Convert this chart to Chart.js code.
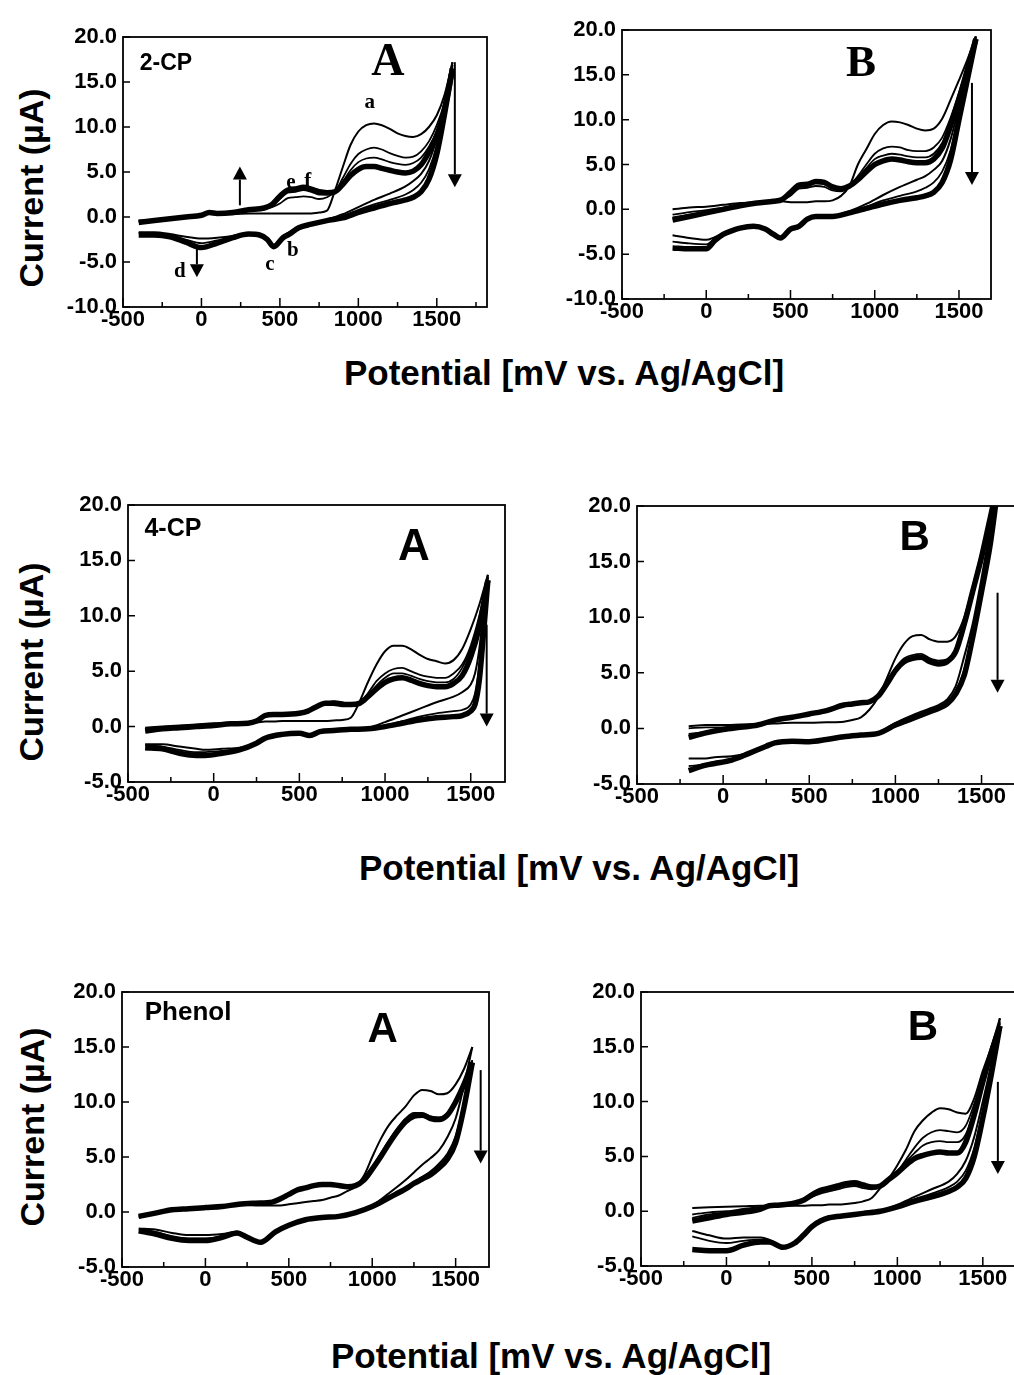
<!DOCTYPE html>
<html>
<head>
<meta charset="utf-8">
<script src="https://cdn.jsdelivr.net/npm/chart.js@4.4.1/dist/chart.umd.min.js"></script>
<style>
  html, body { margin: 0; padding: 0; background: #fff; }
  #page { position: relative; width: 1014px; height: 1375px; overflow: hidden; background: #fff; }
  #page canvas { position: absolute; }
  .ttl { position: absolute; white-space: nowrap; color: #000;
         font: bold 35px "Liberation Sans", Arial, sans-serif;
         transform: translate(-50%, -50%); }
  .ytl { font-size: 34px; transform: translate(-50%, -50%) rotate(-90deg); }
</style>
</head>
<body>
<div id="page">
  <div class="ttl ytl" style="left:31px;top:188px">Current (µA)</div>
  <div class="ttl ytl" style="left:31px;top:662px">Current (µA)</div>
  <div class="ttl ytl" style="left:32px;top:1127px">Current (µA)</div>
  <div class="ttl" style="left:564px;top:373px">Potential [mV vs. Ag/AgCl]</div>
  <div class="ttl" style="left:579px;top:868px">Potential [mV vs. Ag/AgCl]</div>
  <div class="ttl" style="left:551px;top:1356px">Potential [mV vs. Ag/AgCl]</div>
</div>
<script>
// ---- 2-CP, panel A (mV / µA) ----
const cp2A_fwdV = [-400,-300,-200,-100,0,50,100,200,300,400,450,500,550,600,650,700,750,800,850,900,950,1000,1050,1100,1150,1200,1250,1300,1350,1400,1450,1500,1550,1600];
const cp2A_fwd1 = [-0.4,-0.3,-0.1,0.0,0.2,0.4,0.3,0.3,0.4,0.4,0.4,0.4,0.4,0.4,0.4,0.4,0.5,0.7,2.9,5.5,8.0,9.5,10.2,10.4,10.2,9.8,9.3,9.0,8.9,9.2,10.0,11.3,13.6,17.2];
const cp2A_fwd2 = [-0.5,-0.4,-0.2,0.0,0.2,0.5,0.4,0.5,0.7,0.9,1.1,1.5,2.1,2.2,2.3,2.2,2.0,2.2,2.8,4.3,5.9,7.0,7.5,7.7,7.5,7.1,6.8,6.6,6.7,7.3,8.4,10.2,12.8,16.9];
const cp2A_fwd3 = [-0.5,-0.4,-0.2,0.0,0.2,0.5,0.4,0.5,0.8,1.0,1.3,2.0,2.7,2.8,3.0,2.8,2.5,2.5,2.8,3.9,5.2,6.1,6.5,6.6,6.4,6.1,5.9,5.8,6.0,6.6,7.8,9.6,12.3,16.7];
const cp2A_fwdN = [-0.6,-0.4,-0.2,0.0,0.2,0.5,0.4,0.5,0.8,1.0,1.4,2.3,3.0,3.1,3.3,3.1,2.8,2.7,2.8,3.6,4.6,5.3,5.6,5.6,5.4,5.2,5.0,4.9,5.1,5.8,7.2,9.0,12.0,16.5];
const cp2A_revV = [1600,1550,1500,1450,1400,1350,1300,1200,1100,1000,900,800,700,620,560,520,460,420,370,300,200,100,0,-100,-200,-300,-400];
const cp2A_rev1 = [17.2,12.8,8.8,6.2,4.8,4.0,3.4,2.6,1.9,1.1,0.3,-0.3,-0.8,-1.1,-1.7,-2.1,-3.1,-2.6,-2.0,-1.8,-2.1,-2.3,-2.4,-2.2,-1.9,-1.7,-1.7];
const cp2A_rev2 = [16.9,12.2,8.0,5.3,3.8,3.0,2.5,1.9,1.4,0.8,0.1,-0.4,-0.8,-1.2,-1.8,-2.2,-3.2,-2.5,-2.0,-1.8,-2.2,-2.6,-2.9,-2.5,-2.0,-1.9,-1.8];
const cp2A_revN = [16.5,11.5,7.0,4.2,2.8,2.2,1.9,1.5,1.0,0.5,-0.1,-0.4,-0.8,-1.2,-1.9,-2.3,-3.3,-2.5,-2.0,-1.9,-2.3,-2.9,-3.4,-2.8,-2.2,-2.0,-2.0];

// ---- 2-CP, panel B ----
const cp2B_fwdV = [-200,-100,0,100,200,300,400,450,500,550,600,650,700,750,800,850,900,950,1000,1050,1100,1150,1200,1250,1300,1350,1400,1450,1500,1550,1600];
const cp2B_fwd1 = [0.0,0.2,0.3,0.5,0.7,0.8,0.9,0.9,0.8,0.8,0.8,0.9,0.9,1.0,1.5,2.6,5.0,6.7,8.4,9.4,9.8,9.7,9.4,9.0,8.8,9.0,10.1,12.2,14.4,16.7,19.3];
const cp2B_fwd2 = [-0.6,-0.3,-0.1,0.2,0.5,0.7,0.9,1.0,1.5,2.3,2.4,2.6,2.5,2.1,2.0,2.6,3.7,5.0,6.2,6.8,7.0,6.9,6.6,6.5,6.5,6.9,8.0,10.2,13.0,16.0,19.2];
const cp2B_fwd3 = [-0.9,-0.6,-0.3,0.1,0.4,0.7,0.9,1.0,1.7,2.5,2.6,2.9,2.8,2.3,2.2,2.6,3.5,4.6,5.6,6.0,6.2,6.1,5.9,5.8,5.8,6.2,7.4,9.8,12.7,15.8,19.1];
const cp2B_fwdN = [-1.2,-0.8,-0.4,0.0,0.4,0.7,0.9,1.1,1.9,2.7,2.8,3.1,3.0,2.5,2.3,2.6,3.3,4.2,5.0,5.4,5.6,5.5,5.3,5.2,5.2,5.6,6.8,9.3,12.3,15.6,19.0];
const cp2B_revV = [1600,1550,1500,1450,1400,1350,1300,1250,1150,1050,950,850,750,650,600,550,500,440,400,350,280,200,150,100,50,0,-100,-200];
const cp2B_rev1 = [19.3,15.5,11.5,7.8,5.4,4.4,3.7,3.3,2.5,1.6,0.6,-0.2,-0.7,-0.8,-1.1,-1.8,-2.2,-3.1,-2.7,-2.2,-1.9,-2.1,-2.3,-2.7,-3.1,-3.4,-3.2,-2.9];
const cp2B_rev2 = [19.2,15.0,10.8,6.6,4.2,3.0,2.4,2.0,1.5,1.0,0.3,-0.3,-0.8,-0.8,-1.1,-1.9,-2.2,-3.2,-2.8,-2.2,-1.9,-2.1,-2.4,-2.8,-3.3,-3.9,-3.8,-3.6];
const cp2B_revN = [19.0,14.5,10.0,5.5,3.0,1.9,1.5,1.3,1.0,0.6,0.1,-0.4,-0.8,-0.8,-1.1,-1.9,-2.2,-3.2,-2.8,-2.2,-1.9,-2.1,-2.4,-2.8,-3.5,-4.4,-4.4,-4.3];

// ---- 4-CP, panel A ----
const cp4A_fwdV = [-400,-300,-200,-100,0,100,200,250,300,350,400,500,550,600,650,700,750,800,850,900,950,1000,1050,1100,1150,1200,1250,1300,1350,1400,1450,1500,1550,1600];
const cp4A_fwd1 = [-0.1,0.0,0.1,0.2,0.3,0.35,0.4,0.4,0.45,0.45,0.5,0.5,0.5,0.5,0.5,0.55,0.6,0.8,2.2,4.0,5.6,6.8,7.3,7.3,7.0,6.5,6.1,5.9,5.7,6.0,7.0,8.8,11.0,13.7];
const cp4A_fwd2 = [-0.2,-0.1,0.0,0.1,0.2,0.3,0.35,0.5,0.9,1.0,1.0,1.1,1.3,1.7,2.0,2.2,2.1,2.0,2.1,3.0,4.1,4.8,5.2,5.3,5.0,4.7,4.5,4.4,4.4,4.8,5.6,7.3,10.0,13.5];
const cp4A_fwd3 = [-0.3,-0.1,0.0,0.1,0.2,0.3,0.35,0.5,1.0,1.1,1.1,1.2,1.4,1.8,2.1,2.3,2.2,2.0,2.1,2.8,3.7,4.4,4.8,4.8,4.6,4.3,4.1,4.0,4.0,4.3,5.3,7.0,9.8,13.4];
const cp4A_fwdN = [-0.4,-0.2,-0.1,0.0,0.1,0.25,0.3,0.5,1.0,1.1,1.1,1.2,1.4,1.8,2.1,2.1,2.0,2.0,2.1,2.7,3.4,4.0,4.3,4.4,4.2,3.9,3.7,3.6,3.6,3.9,4.6,6.3,9.0,13.2];
const cp4A_revV = [1600,1575,1550,1525,1500,1450,1400,1300,1200,1100,1000,900,800,700,620,560,500,400,300,250,150,50,-50,-100,-200,-300,-400];
const cp4A_rev1 = [13.7,10.5,7.0,4.8,3.8,3.1,2.7,2.2,1.6,1.0,0.4,-0.1,-0.2,-0.35,-0.45,-0.8,-0.6,-0.7,-1.05,-1.5,-1.9,-2.0,-2.1,-2.0,-1.8,-1.6,-1.6];
const cp4A_rev2 = [13.5,9.5,5.5,3.0,2.0,1.5,1.4,1.2,0.9,0.5,0.1,-0.2,-0.25,-0.35,-0.45,-0.8,-0.6,-0.7,-1.05,-1.5,-2.0,-2.2,-2.3,-2.3,-2.1,-1.8,-1.7];
const cp4A_revN = [13.2,8.5,4.2,2.0,1.4,1.0,0.9,0.8,0.6,0.3,0.0,-0.2,-0.25,-0.35,-0.45,-0.8,-0.6,-0.7,-1.05,-1.5,-2.1,-2.4,-2.6,-2.6,-2.4,-2.0,-1.9];

// ---- 4-CP, panel B ----
const cp4B_fwdV = [-200,-100,0,100,200,300,400,500,600,700,750,800,850,900,950,1000,1050,1100,1150,1200,1250,1300,1350,1400,1450,1500,1550,1600];
const cp4B_fwd1 = [0.2,0.3,0.3,0.35,0.4,0.45,0.5,0.5,0.55,0.6,0.75,1.0,1.7,2.8,4.5,6.3,7.6,8.3,8.4,8.0,7.8,7.8,8.3,10.0,12.8,15.8,19.0,22.5];
const cp4B_fwd2 = [0.0,0.1,0.1,0.2,0.35,0.8,1.0,1.2,1.5,2.0,2.1,2.2,2.3,2.8,4.0,5.4,6.3,6.6,6.7,6.3,6.1,6.2,7.1,9.6,12.6,15.6,19.0,22.5];
const cp4B_fwd3 = [-0.5,-0.3,-0.1,0.1,0.3,0.75,1.0,1.3,1.6,2.1,2.2,2.3,2.4,2.9,4.0,5.2,6.0,6.4,6.5,6.1,5.9,6.1,7.0,9.5,12.5,15.5,19.0,22.5];
const cp4B_fwdN = [-0.8,-0.4,-0.1,0.1,0.3,0.75,1.0,1.3,1.6,2.1,2.2,2.3,2.4,2.9,4.0,5.2,6.0,6.3,6.4,6.0,5.8,6.0,6.9,9.4,12.4,15.4,18.9,22.4];
const cp4B_revV = [1600,1550,1500,1450,1400,1350,1300,1250,1200,1100,1000,900,800,700,600,500,400,300,250,150,50,-50,-100,-200];
const cp4B_rev1 = [22.5,18.0,13.5,9.5,6.5,3.8,2.6,2.1,1.8,1.2,0.5,-0.4,-0.6,-0.75,-1.0,-1.2,-1.15,-1.3,-1.6,-2.2,-2.5,-2.6,-2.7,-2.7];
const cp4B_rev2 = [22.4,17.0,12.8,8.8,5.3,3.3,2.3,1.9,1.6,1.0,0.4,-0.4,-0.6,-0.75,-1.0,-1.2,-1.15,-1.3,-1.6,-2.25,-2.8,-3.0,-3.2,-3.4];
const cp4B_revN = [22.3,16.5,12.3,8.3,4.8,3.1,2.2,1.8,1.5,0.9,0.3,-0.45,-0.6,-0.75,-1.0,-1.2,-1.15,-1.3,-1.6,-2.25,-2.85,-3.15,-3.3,-3.8];

// ---- Phenol, panel A ----
const phA_fwdV = [-400,-300,-200,-100,0,100,200,300,400,450,500,550,600,650,700,750,800,850,900,950,1000,1050,1100,1150,1200,1250,1300,1350,1400,1450,1500,1550,1600];
const phA_fwd1 = [-0.5,-0.1,0.2,0.3,0.4,0.5,0.65,0.6,0.6,0.6,0.7,0.8,0.9,1.0,1.1,1.3,1.5,1.9,2.3,3.3,5.0,6.6,7.9,8.8,9.6,10.6,11.1,11.0,10.7,10.8,11.6,13.0,15.0];
const phA_fwd2 = [-0.3,-0.05,0.2,0.35,0.45,0.55,0.7,0.8,0.9,1.1,1.5,1.9,2.1,2.3,2.4,2.4,2.4,2.3,2.4,3.0,4.1,5.3,6.5,7.6,8.5,9.0,9.0,8.7,8.6,9.0,10.2,11.8,13.8];
const phA_fwd3 = [-0.4,-0.1,0.2,0.3,0.4,0.5,0.7,0.8,0.9,1.2,1.6,2.0,2.2,2.4,2.5,2.5,2.4,2.3,2.4,2.9,4.0,5.1,6.3,7.4,8.3,8.8,8.9,8.6,8.5,8.9,10.1,11.7,13.7];
const phA_fwdN = [-0.4,-0.1,0.2,0.3,0.4,0.5,0.7,0.8,0.9,1.2,1.6,2.0,2.2,2.4,2.5,2.5,2.4,2.3,2.4,2.9,3.9,5.0,6.2,7.3,8.2,8.7,8.8,8.5,8.4,8.8,10.0,11.6,13.6];
const phA_revV = [1600,1550,1500,1450,1400,1350,1300,1250,1200,1100,1000,900,800,700,600,500,420,330,250,190,100,0,-100,-200,-300,-400];
const phA_rev1 = [15.0,11.5,8.5,6.8,5.6,4.9,4.3,3.6,2.9,1.7,0.6,0.0,-0.4,-0.5,-0.7,-1.2,-1.8,-2.7,-2.2,-1.8,-2.0,-2.1,-2.1,-1.9,-1.6,-1.5];
const phA_rev2 = [13.8,10.0,6.9,5.3,4.4,3.7,3.2,2.7,2.2,1.4,0.5,-0.05,-0.4,-0.5,-0.7,-1.2,-1.8,-2.7,-2.2,-1.8,-2.2,-2.4,-2.4,-2.2,-1.8,-1.6];
const phA_revN = [13.6,9.5,6.3,4.8,4.0,3.4,3.0,2.6,2.1,1.3,0.5,-0.05,-0.4,-0.5,-0.7,-1.2,-1.8,-2.75,-2.3,-1.9,-2.3,-2.6,-2.6,-2.4,-2.0,-1.7];

// ---- Phenol, panel B ----
const phB_fwdV = [-200,-100,0,100,200,250,300,400,450,500,550,600,650,700,750,800,850,900,950,1000,1050,1100,1150,1200,1250,1300,1350,1400,1450,1500,1550,1600];
const phB_fwd1 = [0.3,0.35,0.4,0.45,0.5,0.5,0.5,0.5,0.5,0.55,0.55,0.6,0.6,0.65,0.75,0.9,1.2,2.1,3.0,4.2,5.6,7.3,8.3,9.0,9.4,9.3,9.0,8.9,10.3,12.8,15.0,17.6];
const phB_fwd2 = [-0.3,-0.1,0.0,0.2,0.4,0.5,0.55,0.7,0.9,1.3,1.6,1.8,2.0,2.2,2.3,2.1,2.0,2.2,2.9,3.6,4.7,5.8,6.7,7.2,7.4,7.3,7.2,7.8,9.8,12.3,14.9,17.3];
const phB_fwd3 = [-0.6,-0.3,-0.1,0.1,0.3,0.5,0.55,0.75,1.0,1.4,1.8,2.0,2.2,2.4,2.5,2.3,2.1,2.2,2.9,3.6,4.5,5.3,6.0,6.3,6.4,6.3,6.3,7.0,9.3,12.1,14.7,17.1];
const phB_fwdN = [-0.9,-0.6,-0.3,-0.1,0.2,0.5,0.55,0.75,1.0,1.5,1.9,2.1,2.3,2.5,2.6,2.4,2.2,2.3,2.9,3.5,4.2,4.8,5.1,5.3,5.4,5.3,5.3,6.3,8.8,11.8,14.5,16.9];
const phB_revV = [1600,1550,1500,1450,1400,1350,1300,1200,1100,1000,900,800,700,600,550,500,450,400,330,250,200,100,0,-100,-200];
const phB_rev1 = [17.6,13.5,10.0,6.8,4.6,3.4,2.7,2.0,1.3,0.6,0.0,-0.2,-0.4,-0.6,-0.9,-1.4,-2.2,-2.9,-3.2,-2.6,-2.4,-2.4,-2.5,-2.2,-1.8];
const phB_rev2 = [17.2,13.0,9.2,5.8,3.7,2.7,2.2,1.6,1.1,0.5,0.0,-0.2,-0.4,-0.6,-0.9,-1.4,-2.2,-2.9,-3.3,-2.7,-2.6,-2.7,-2.9,-2.7,-2.3];
const phB_revN = [16.9,12.5,8.5,5.0,3.0,2.2,1.8,1.3,0.9,0.4,0.0,-0.2,-0.4,-0.6,-0.9,-1.4,-2.2,-2.9,-3.3,-2.8,-2.8,-3.1,-3.6,-3.6,-3.5];

// axis ticks
const xTickVals = [-500,-250,0,250,500,750,1000,1250,1500,1750];
const yTicksWide = [-10,-5,0,5,10,15,20];
const yTicksNarrow = [-5,0,5,10,15,20];

const SANS = '"Liberation Sans", Arial, sans-serif';
const SERIF = '"Liberation Serif", "Times New Roman", serif';

// frame, inward ticks, in-plot labels and arrows
const decor = {
  id: 'decor',
  afterDatasetsDraw(chart, args, opts) {
    const { ctx, chartArea: a, scales: { x, y } } = chart;
    ctx.save();
    ctx.strokeStyle = '#000';
    ctx.fillStyle = '#000';
    ctx.lineWidth = 1.8;
    ctx.strokeRect(a.left, a.top, a.right - a.left, a.bottom - a.top);
    ctx.lineWidth = 1.5;
    ctx.beginPath();
    x.ticks.forEach(t => {
      const px = x.getPixelForValue(t.value);
      const len = t.value % 500 === 0 ? 9 : 5;
      ctx.moveTo(px, a.bottom); ctx.lineTo(px, a.bottom - len);
    });
    y.ticks.forEach(t => {
      const py = y.getPixelForValue(t.value);
      ctx.moveTo(a.left, py); ctx.lineTo(a.left + 7, py);
    });
    ctx.stroke();

    ctx.textAlign = 'center';
    ctx.textBaseline = 'middle';
    (opts.notes || []).forEach(n => {
      ctx.font = n.font;
      ctx.fillText(n.t, x.getPixelForValue(n.x), y.getPixelForValue(n.y));
    });

    ctx.lineWidth = 2;
    (opts.arrows || []).forEach(ar => {
      const px = x.getPixelForValue(ar.x);
      const p0 = y.getPixelForValue(ar.from), p1 = y.getPixelForValue(ar.to);
      const dir = Math.sign(p1 - p0), hl = 13, hw = 7;
      ctx.beginPath();
      ctx.moveTo(px, p0); ctx.lineTo(px, p1 - dir * hl);
      ctx.stroke();
      ctx.beginPath();
      ctx.moveTo(px, p1);
      ctx.lineTo(px - hw, p1 - dir * hl);
      ctx.lineTo(px + hw, p1 - dir * hl);
      ctx.closePath();
      ctx.fill();
    });
    ctx.restore();
  }
};

function series(xs, ys, w) {
  return {
    data: xs.map((v, i) => ({ x: v, y: ys[i] })),
    borderColor: '#000',
    borderWidth: w,
    pointRadius: 0,
    fill: false,
    cubicInterpolationMode: 'monotone'
  };
}

function makePanel(p) {
  const L = 110, T = 25, R = 15, B = 35;
  const [bl, bt, br, bb] = p.box;
  const w = br - bl + L + R, h = bb - bt + T + B;
  const cv = document.createElement('canvas');
  cv.width = w; cv.height = h;
  cv.style.left = (bl - L) + 'px';
  cv.style.top = (bt - T) + 'px';
  cv.style.width = w + 'px';
  cv.style.height = h + 'px';
  document.getElementById('page').appendChild(cv);

  const fwdW = [2, 1.8, 1.8, 5.5], revW = [2, 1.8, 5.5];
  const datasets = [];
  p.fwd.forEach((ys, i) => datasets.push(series(p.fwdV, ys, fwdW[i])));
  p.rev.forEach((ys, i) => datasets.push(series(p.revV, ys, revW[i])));

  const tickFont = { family: SANS, size: 22, weight: 'bold' };
  new Chart(cv, {
    type: 'line',
    data: { datasets },
    plugins: [decor],
    options: {
      responsive: false,
      animation: false,
      devicePixelRatio: 1,
      layout: { padding: { top: T, right: R, left: 0, bottom: 0 } },
      plugins: {
        legend: { display: false },
        tooltip: { enabled: false },
        decor: { notes: p.notes, arrows: p.arrows }
      },
      scales: {
        x: {
          type: 'linear', min: -500, max: p.xMax,
          grid: { display: false, drawTicks: false },
          border: { display: false },
          afterBuildTicks: s => { s.ticks = xTickVals.filter(v => v <= p.xMax).map(v => ({ value: v })); },
          afterFit: s => { s.height = B; },
          ticks: {
            autoSkip: false, maxRotation: 0, padding: 0, color: '#000', font: tickFont,
            callback: v => (v % 500 === 0 ? String(v) : '')
          }
        },
        y: {
          type: 'linear', min: p.yTicks[0], max: 20,
          grid: { display: false, drawTicks: false },
          border: { display: false },
          afterBuildTicks: s => { s.ticks = p.yTicks.map(v => ({ value: v })); },
          afterFit: s => { s.width = L; },
          ticks: { padding: 6, color: '#000', font: tickFont, callback: v => v.toFixed(1) }
        }
      }
    }
  });
}

makePanel({
  box: [123, 37, 487, 307], xMax: 1820, yTicks: yTicksWide,
  fwdV: cp2A_fwdV, fwd: [cp2A_fwd1, cp2A_fwd2, cp2A_fwd3, cp2A_fwdN],
  revV: cp2A_revV, rev: [cp2A_rev1, cp2A_rev2, cp2A_revN],
  notes: [
    { t: '2-CP', x: -226, y: 17.0, font: 'bold 23px ' + SANS },
    { t: 'A', x: 1188, y: 17.1, font: 'bold 46px ' + SERIF },
    { t: 'a', x: 1073, y: 12.7, font: 'bold 21px ' + SERIF },
    { t: 'b', x: 583, y: -3.7, font: 'bold 21px ' + SERIF },
    { t: 'c', x: 436, y: -5.3, font: 'bold 21px ' + SERIF },
    { t: 'd', x: -137, y: -6.1, font: 'bold 21px ' + SERIF },
    { t: 'e', x: 570, y: 3.8, font: 'bold 21px ' + SERIF },
    { t: 'f', x: 678, y: 3.9, font: 'bold 21px ' + SERIF }
  ],
  arrows: [
    { x: 245, from: 1.3, to: 5.6 },
    { x: 1615, from: 17.2, to: 3.3 },
    { x: -29, from: -3.4, to: -6.7 }
  ]
});

makePanel({
  box: [622, 30, 991, 299], xMax: 1690, yTicks: yTicksWide,
  fwdV: cp2B_fwdV, fwd: [cp2B_fwd1, cp2B_fwd2, cp2B_fwd3, cp2B_fwdN],
  revV: cp2B_revV, rev: [cp2B_rev1, cp2B_rev2, cp2B_revN],
  notes: [{ t: 'B', x: 918, y: 16.2, font: 'bold 45px ' + SERIF }],
  arrows: [{ x: 1577, from: 14.1, to: 2.7 }]
});

makePanel({
  box: [128, 505, 505, 782], xMax: 1700, yTicks: yTicksNarrow,
  fwdV: cp4A_fwdV, fwd: [cp4A_fwd1, cp4A_fwd2, cp4A_fwd3, cp4A_fwdN],
  revV: cp4A_revV, rev: [cp4A_rev1, cp4A_rev2, cp4A_revN],
  notes: [
    { t: '4-CP', x: -238, y: 17.8, font: 'bold 25px ' + SANS },
    { t: 'A', x: 1168, y: 16.1, font: 'bold 44px ' + SANS }
  ],
  arrows: [{ x: 1593, from: 9.2, to: 0.0 }]
});

makePanel({
  box: [637, 506, 1016, 784], xMax: 1700, yTicks: yTicksNarrow,
  fwdV: cp4B_fwdV, fwd: [cp4B_fwd1, cp4B_fwd2, cp4B_fwd3, cp4B_fwdN],
  revV: cp4B_revV, rev: [cp4B_rev1, cp4B_rev2, cp4B_revN],
  notes: [{ t: 'B', x: 1112, y: 17.1, font: 'bold 42px ' + SANS }],
  arrows: [{ x: 1593, from: 12.2, to: 3.2 }]
});

makePanel({
  box: [122, 992, 489, 1267], xMax: 1700, yTicks: yTicksNarrow,
  fwdV: phA_fwdV, fwd: [phA_fwd1, phA_fwd2, phA_fwd3, phA_fwdN],
  revV: phA_revV, rev: [phA_rev1, phA_rev2, phA_revN],
  notes: [
    { t: 'Phenol', x: -104, y: 18.1, font: 'bold 26px ' + SANS },
    { t: 'A', x: 1062, y: 16.5, font: 'bold 42px ' + SANS }
  ],
  arrows: [{ x: 1650, from: 12.9, to: 4.4 }]
});

makePanel({
  box: [641, 992, 1017, 1266], xMax: 1700, yTicks: yTicksNarrow,
  fwdV: phB_fwdV, fwd: [phB_fwd1, phB_fwd2, phB_fwd3, phB_fwdN],
  revV: phB_revV, rev: [phB_rev1, phB_rev2, phB_revN],
  notes: [{ t: 'B', x: 1149, y: 16.7, font: 'bold 42px ' + SANS }],
  arrows: [{ x: 1588, from: 11.8, to: 3.4 }]
});
</script>
</body>
</html>
